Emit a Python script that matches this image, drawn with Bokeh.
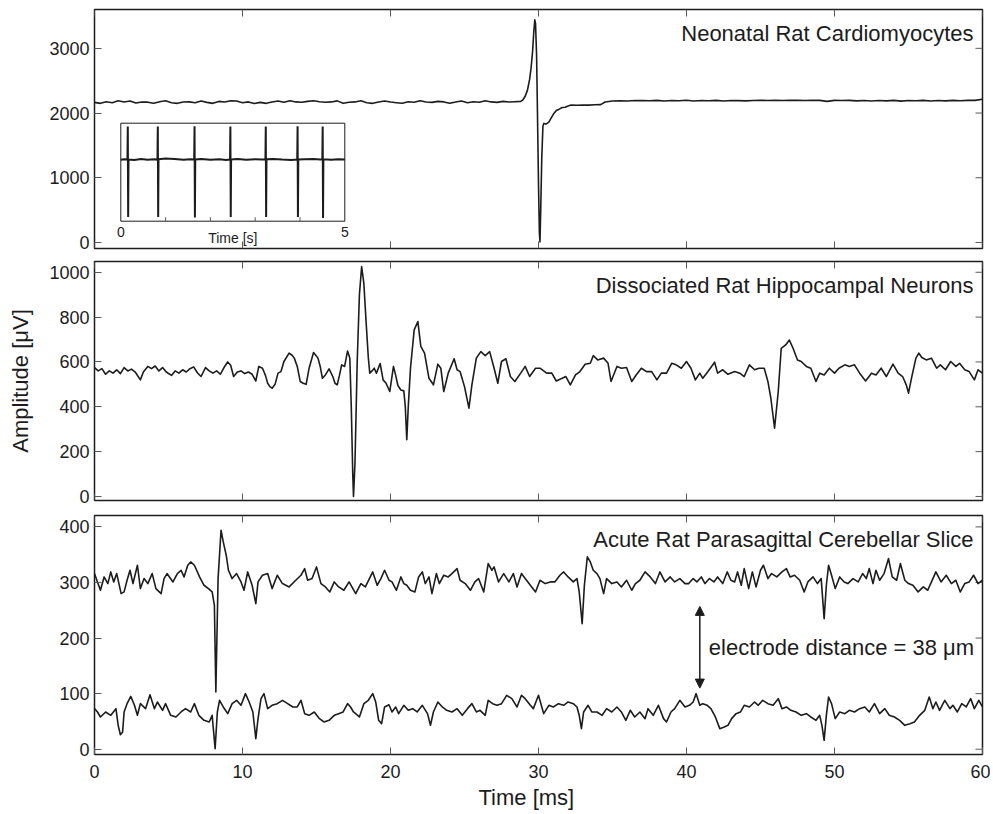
from bokeh.plotting import figure
from bokeh.layouts import column
from bokeh.models import Range1d, LinearAxis, FixedTicker, Label, Arrow, NormalHead, Title
from bokeh.embed import file_html
from bokeh.resources import INLINE

# ---------------- data (time [ms], amplitude [uV]) ----------------
x_ticks = [0, 10, 20, 30, 40, 50, 60]

cardio_ticks = [0, 1000, 2000, 3000]
cardio_trace = [
    (0.0, 2165), (0.4, 2150), (0.8, 2175), (1.2, 2160), (1.6, 2190), (2.0, 2170), (2.4, 2185), (2.8, 2155),
    (3.2, 2170), (3.6, 2168), (4.0, 2150), (4.4, 2175), (4.8, 2190), (5.2, 2160), (5.6, 2150), (6.0, 2170),
    (6.4, 2172), (6.8, 2160), (7.2, 2185), (7.6, 2165), (8.0, 2150), (8.4, 2180), (8.8, 2170), (9.2, 2190),
    (9.6, 2185), (10.0, 2160), (10.4, 2172), (10.8, 2148), (11.2, 2165), (11.6, 2150), (12.0, 2170), (12.4, 2185),
    (12.8, 2168), (13.2, 2190), (13.6, 2172), (14.0, 2168), (14.4, 2180), (14.8, 2190), (15.2, 2175), (15.6, 2168),
    (16.0, 2172), (16.4, 2188), (16.8, 2150), (17.2, 2168), (17.6, 2172), (18.0, 2190), (18.4, 2160), (18.8, 2150),
    (19.2, 2170), (19.6, 2185), (20.0, 2170), (20.4, 2160), (20.8, 2152), (21.2, 2175), (21.6, 2168), (22.0, 2190),
    (22.4, 2170), (22.8, 2165), (23.2, 2180), (23.6, 2172), (24.0, 2150), (24.4, 2170), (24.8, 2185), (25.2, 2160),
    (25.6, 2175), (26.0, 2168), (26.4, 2190), (26.8, 2172), (27.2, 2165), (27.6, 2180), (28.0, 2170), (28.4, 2175),
    (28.8, 2180), (28.95, 2205), (29.1, 2260), (29.25, 2350), (29.4, 2520), (29.5, 2700), (29.6, 2950), (29.68, 3250),
    (29.75, 3440), (29.8, 3380), (29.87, 2900), (29.93, 2000), (30.0, 900), (30.06, 150), (30.1, 10), (30.15, 500),
    (30.22, 1300), (30.3, 1800), (30.36, 1840), (30.5, 1830), (30.7, 1860), (30.85, 1920), (31.0, 1980), (31.2, 2040),
    (31.4, 2060), (31.6, 2085), (31.8, 2090), (32.0, 2110), (32.2, 2125), (32.6, 2120), (33.0, 2125), (33.4, 2122),
    (33.8, 2128), (34.2, 2130), (34.5, 2170), (35.0, 2185), (35.5, 2190), (36.0, 2185), (36.5, 2195), (37.0, 2192),
    (37.5, 2190), (38.0, 2196), (38.5, 2185), (39.0, 2195), (39.5, 2190), (40.0, 2198), (40.5, 2186), (41.0, 2195),
    (41.5, 2190), (42.0, 2196), (42.5, 2185), (43.0, 2195), (43.5, 2192), (44.0, 2188), (44.5, 2195), (45.0, 2196),
    (45.5, 2194), (46.0, 2196), (46.5, 2195), (47.0, 2196), (47.5, 2196), (48.0, 2195), (48.5, 2196), (49.0, 2196),
    (49.5, 2180), (50.0, 2196), (50.5, 2195), (51.0, 2196), (51.5, 2188), (52.0, 2195), (52.5, 2185), (53.0, 2194),
    (53.5, 2188), (54.0, 2196), (54.5, 2184), (55.0, 2195), (55.5, 2190), (56.0, 2196), (56.5, 2185), (57.0, 2195),
    (57.5, 2188), (58.0, 2196), (58.5, 2190), (59.0, 2196), (59.5, 2196), (60.0, 2212),
]

# inset: 5 s overview of the cardiomyocyte channel (time [s], amplitude [uV])
inset_t_range = (0, 5)
inset_v_range = (-200, 3600)
inset_minor_ticks = [1, 2, 3, 4]
inset_trace = [
    (0.0, 2180), (0.08, 2200), (0.148, 2190), (0.156, 3470), (0.164, -40), (0.172, 2195), (0.3, 2170),
    (0.45, 2210), (0.6, 2180), (0.75, 2200), (0.818, 2185), (0.826, 3470), (0.834, -40), (0.842, 2200),
    (1.0, 2230), (1.2, 2210), (1.4, 2180), (1.55, 2200), (1.638, 2190), (1.646, 3480), (1.654, -60),
    (1.662, 2190), (1.8, 2215), (2.0, 2180), (2.2, 2200), (2.35, 2175), (2.438, 2190), (2.446, 3470),
    (2.454, -40), (2.462, 2195), (2.6, 2210), (2.8, 2180), (3.0, 2200), (3.15, 2190), (3.228, 2200),
    (3.236, 3470), (3.244, -40), (3.252, 2200), (3.4, 2215), (3.6, 2190), (3.8, 2170), (3.938, 2190),
    (3.946, 3480), (3.954, -40), (3.962, 2190), (4.1, 2200), (4.3, 2215), (4.45, 2190), (4.498, 2200),
    (4.506, 3470), (4.514, -80), (4.522, 2200), (4.7, 2180), (4.85, 2200), (5.0, 2190),
]

neuron_ticks = [0, 200, 400, 600, 800, 1000]
neuron_trace = [
    (0.0, 575), (0.25, 560), (0.5, 570), (0.75, 545), (1.0, 560), (1.25, 550), (1.5, 565), (1.75, 548),
    (2.0, 575), (2.25, 560), (2.5, 568), (2.75, 555), (3.1, 520), (3.3, 555), (3.6, 580), (3.85, 570),
    (4.1, 582), (4.35, 560), (4.6, 575), (4.85, 555), (5.2, 540), (5.45, 560), (5.7, 550), (5.95, 565),
    (6.2, 555), (6.45, 570), (6.7, 578), (6.95, 552), (7.2, 535), (7.5, 575), (7.75, 560), (8.0, 550),
    (8.25, 560), (8.5, 545), (8.75, 575), (9.0, 600), (9.2, 585), (9.4, 535), (9.65, 555), (9.9, 560),
    (10.15, 548), (10.4, 555), (10.65, 545), (10.9, 515), (11.1, 580), (11.35, 572), (11.55, 540), (11.7, 505),
    (11.85, 490), (12.0, 483), (12.2, 500), (12.4, 550), (12.6, 557), (12.8, 602), (13.15, 639), (13.35, 630),
    (13.5, 617), (13.7, 580), (13.9, 513), (14.1, 505), (14.3, 500), (14.5, 572), (14.8, 642), (14.95, 630),
    (15.1, 617), (15.25, 580), (15.4, 527), (15.6, 542), (15.85, 569), (16.1, 535), (16.25, 505), (16.4, 498),
    (16.55, 540), (16.7, 587), (16.9, 580), (17.1, 649), (17.25, 617), (17.35, 400), (17.45, 100), (17.5, 0),
    (17.6, 150), (17.75, 600), (17.9, 900), (18.05, 1025), (18.2, 950), (18.35, 780), (18.5, 620), (18.6, 550),
    (18.75, 560), (18.9, 572), (19.05, 550), (19.3, 593), (19.5, 520), (19.7, 505), (19.95, 468), (20.2, 580),
    (20.35, 540), (20.5, 495), (20.7, 475), (20.9, 471), (21.0, 400), (21.1, 253), (21.2, 400), (21.35, 572),
    (21.6, 743), (21.85, 780), (22.05, 669), (22.3, 639), (22.6, 527), (22.9, 498), (23.2, 590), (23.4, 572),
    (23.6, 468), (23.9, 550), (24.3, 614), (24.5, 565), (24.7, 557), (25.0, 490), (25.3, 394), (25.5, 498),
    (25.8, 617), (26.1, 646), (26.4, 628), (26.7, 646), (27.0, 572), (27.25, 505), (27.5, 602), (27.8, 614),
    (28.1, 535), (28.4, 513), (28.8, 550), (29.1, 580), (29.4, 535), (29.8, 572), (30.1, 572), (30.55, 550),
    (30.9, 550), (31.2, 515), (31.6, 527), (31.85, 535), (32.15, 498), (32.5, 542), (32.8, 557), (33.15, 590),
    (33.5, 594), (33.7, 628), (34.0, 609), (34.4, 617), (34.7, 594), (34.9, 513), (35.3, 580), (35.6, 572),
    (35.95, 575), (36.3, 513), (36.6, 542), (36.95, 572), (37.3, 557), (37.65, 557), (38.0, 520), (38.3, 550),
    (38.65, 550), (39.0, 594), (39.3, 587), (39.65, 572), (40.0, 602), (40.3, 572), (40.6, 520), (40.9, 550),
    (41.1, 527), (41.45, 557), (41.9, 599), (42.1, 550), (42.45, 565), (42.8, 545), (43.25, 557), (43.6, 550),
    (43.9, 535), (44.25, 587), (44.6, 565), (44.9, 572), (45.25, 572), (45.5, 513), (45.7, 438), (45.95, 305),
    (46.2, 468), (46.4, 661), (46.7, 676), (46.95, 698), (47.2, 661), (47.5, 609), (47.75, 602), (48.1, 580),
    (48.4, 572), (48.75, 513), (49.0, 550), (49.3, 542), (49.65, 572), (50.0, 550), (50.3, 572), (50.7, 587),
    (51.0, 580), (51.35, 587), (51.7, 550), (52.1, 515), (52.5, 550), (52.8, 542), (53.15, 572), (53.5, 535),
    (53.95, 590), (54.3, 550), (54.6, 535), (54.85, 498), (55.0, 461), (55.2, 527), (55.5, 617), (55.7, 639),
    (55.9, 620), (56.2, 609), (56.55, 617), (56.9, 572), (57.15, 587), (57.5, 565), (57.85, 602), (58.2, 580),
    (58.45, 594), (58.8, 565), (59.1, 557), (59.45, 520), (59.7, 565), (60.0, 550),
]

slice_ticks = [0, 100, 200, 300, 400]
slice_upper = [
    (0.0, 316), (0.2, 301), (0.4, 286), (0.65, 310), (0.9, 298), (1.1, 319), (1.3, 301), (1.5, 316),
    (1.8, 280), (2.0, 283), (2.2, 304), (2.4, 322), (2.6, 298), (2.9, 331), (3.1, 289), (3.35, 307),
    (3.6, 298), (3.9, 316), (4.15, 289), (4.5, 280), (4.7, 307), (4.9, 316), (5.3, 301), (5.6, 316),
    (5.85, 322), (6.05, 310), (6.3, 331), (6.5, 337), (6.75, 331), (7.1, 310), (7.4, 295), (7.7, 289),
    (7.95, 283), (8.1, 259), (8.2, 103), (8.35, 307), (8.55, 394), (8.7, 373), (8.9, 349), (9.05, 322),
    (9.3, 307), (9.6, 316), (9.9, 301), (10.1, 286), (10.35, 319), (10.65, 295), (10.9, 262), (11.05, 301),
    (11.35, 313), (11.7, 316), (12.0, 289), (12.35, 313), (12.7, 298), (13.15, 292), (13.6, 304), (13.95, 313),
    (14.2, 325), (14.4, 304), (14.7, 307), (15.0, 328), (15.3, 298), (15.6, 292), (15.9, 283), (16.2, 301),
    (16.5, 292), (16.85, 286), (17.2, 301), (17.65, 280), (18.0, 298), (18.3, 292), (18.8, 319), (19.1, 295),
    (19.35, 307), (19.6, 322), (19.9, 304), (20.1, 301), (20.4, 286), (20.7, 310), (20.9, 298), (21.1, 295),
    (21.35, 286), (21.65, 283), (21.9, 310), (22.15, 319), (22.35, 298), (22.6, 310), (22.8, 280), (23.1, 316),
    (23.3, 298), (23.6, 313), (23.9, 310), (24.15, 316), (24.5, 325), (24.7, 304), (25.05, 298), (25.4, 286),
    (25.7, 301), (25.95, 307), (26.3, 283), (26.6, 334), (26.85, 322), (27.0, 328), (27.3, 301), (27.65, 316),
    (28.0, 301), (28.3, 316), (28.55, 292), (28.85, 316), (29.1, 307), (29.45, 295), (29.8, 283), (30.1, 304),
    (30.45, 298), (30.8, 301), (31.1, 301), (31.45, 313), (31.7, 319), (32.0, 310), (32.35, 301), (32.6, 307),
    (32.75, 283), (32.95, 226), (33.1, 295), (33.3, 346), (33.5, 337), (33.7, 322), (33.95, 316), (34.15, 307),
    (34.4, 280), (34.6, 307), (34.95, 298), (35.3, 301), (35.6, 292), (35.95, 304), (36.3, 286), (36.55, 298),
    (36.85, 304), (37.2, 319), (37.55, 310), (37.9, 298), (38.2, 319), (38.55, 301), (38.9, 310), (39.2, 301),
    (39.55, 307), (39.9, 298), (40.15, 298), (40.45, 307), (40.7, 301), (41.0, 310), (41.25, 298), (41.55, 307),
    (41.85, 301), (42.1, 310), (42.45, 298), (42.75, 319), (43.0, 304), (43.25, 301), (43.45, 319), (43.7, 295),
    (43.9, 325), (44.2, 289), (44.45, 319), (44.7, 292), (45.0, 322), (45.2, 331), (45.5, 307), (45.75, 316),
    (46.1, 310), (46.45, 319), (46.75, 325), (47.0, 310), (47.3, 313), (47.65, 304), (47.95, 283), (48.2, 301),
    (48.55, 310), (48.85, 298), (49.1, 307), (49.3, 235), (49.45, 295), (49.6, 331), (49.8, 313), (50.05, 289),
    (50.35, 310), (50.65, 301), (50.9, 298), (51.25, 307), (51.6, 301), (51.9, 316), (52.15, 307), (52.35, 325),
    (52.6, 298), (52.8, 322), (53.05, 304), (53.35, 316), (53.65, 343), (53.9, 310), (54.2, 304), (54.45, 334),
    (54.75, 304), (55.0, 298), (55.3, 295), (55.65, 283), (56.0, 292), (56.3, 286), (56.65, 307), (56.85, 319),
    (57.2, 301), (57.55, 313), (57.9, 298), (58.2, 304), (58.5, 283), (58.8, 298), (59.1, 301), (59.4, 313),
    (59.7, 298), (60.0, 304),
]
slice_lower = [
    (0.0, 73), (0.2, 67), (0.4, 58), (0.75, 67), (1.1, 61), (1.45, 73), (1.6, 43), (1.75, 26),
    (1.9, 31), (2.0, 67), (2.2, 82), (2.45, 95), (2.7, 79), (2.9, 61), (3.1, 82), (3.45, 73),
    (3.75, 98), (4.05, 73), (4.25, 85), (4.6, 70), (4.8, 82), (5.15, 61), (5.5, 58), (5.85, 67),
    (6.15, 73), (6.5, 67), (6.75, 82), (7.05, 61), (7.4, 52), (7.75, 49), (7.95, 61), (8.15, 1),
    (8.3, 67), (8.45, 88), (8.7, 76), (9.0, 64), (9.3, 82), (9.6, 88), (9.9, 79), (10.2, 100),
    (10.45, 85), (10.7, 67), (10.9, 19), (11.05, 55), (11.25, 91), (11.45, 100), (11.7, 73), (12.0, 79),
    (12.35, 82), (12.7, 88), (13.05, 82), (13.4, 76), (13.7, 76), (13.95, 88), (14.2, 64), (14.5, 61),
    (14.85, 67), (15.2, 55), (15.5, 49), (15.85, 52), (16.2, 61), (16.5, 64), (16.8, 67), (17.1, 82),
    (17.3, 76), (17.5, 67), (17.9, 58), (18.2, 82), (18.5, 88), (18.8, 100), (19.0, 85), (19.2, 52),
    (19.4, 46), (19.6, 76), (19.9, 80), (20.1, 67), (20.35, 76), (20.55, 64), (20.9, 79), (21.2, 70),
    (21.5, 73), (21.8, 67), (22.15, 79), (22.5, 64), (22.7, 43), (22.9, 67), (23.2, 85), (23.5, 76),
    (23.8, 70), (24.15, 67), (24.5, 73), (24.85, 61), (25.2, 73), (25.5, 82), (25.8, 67), (26.05, 70),
    (26.4, 61), (26.6, 88), (26.9, 82), (27.2, 79), (27.5, 82), (27.85, 97), (28.2, 91), (28.55, 76),
    (28.85, 97), (29.1, 91), (29.45, 79), (29.65, 73), (30.0, 97), (30.35, 64), (30.7, 79), (31.0, 76),
    (31.35, 82), (31.7, 79), (32.0, 85), (32.35, 82), (32.6, 76), (32.75, 61), (32.9, 37), (33.05, 67),
    (33.35, 79), (33.6, 67), (33.95, 67), (34.3, 61), (34.6, 73), (34.95, 67), (35.3, 76), (35.6, 67),
    (35.9, 52), (36.2, 70), (36.5, 58), (36.85, 67), (37.2, 55), (37.4, 73), (37.75, 61), (38.1, 79),
    (38.45, 55), (38.65, 49), (38.95, 67), (39.2, 73), (39.55, 88), (39.9, 76), (40.2, 79), (40.45, 85),
    (40.65, 100), (40.9, 79), (41.1, 82), (41.4, 79), (41.65, 73), (41.95, 58), (42.25, 37), (42.55, 40),
    (42.8, 43), (43.05, 55), (43.35, 64), (43.65, 67), (43.9, 79), (44.25, 76), (44.6, 85), (44.85, 79),
    (45.15, 88), (45.5, 82), (45.85, 79), (46.2, 91), (46.45, 73), (46.75, 76), (47.05, 70), (47.4, 67),
    (47.75, 61), (48.1, 64), (48.4, 58), (48.75, 52), (49.0, 61), (49.15, 43), (49.3, 16), (49.45, 61),
    (49.6, 94), (49.8, 82), (50.05, 55), (50.35, 67), (50.7, 64), (51.0, 70), (51.35, 67), (51.7, 73),
    (52.05, 76), (52.35, 67), (52.7, 82), (53.05, 64), (53.4, 73), (53.7, 61), (54.05, 58), (54.4, 52),
    (54.75, 43), (55.1, 46), (55.4, 49), (55.75, 61), (56.1, 70), (56.4, 94), (56.65, 73), (56.85, 85),
    (57.1, 70), (57.45, 88), (57.8, 73), (58.0, 79), (58.3, 67), (58.6, 82), (58.9, 76), (59.2, 91),
    (59.45, 73), (59.75, 88), (60.0, 76),
]

# electrode-distance marker (time [ms], amplitude [uV])
marker_time = 40.9
marker_span = (110, 257)

titles = ["Neonatal Rat Cardiomyocytes", "Dissociated Rat Hippocampal Neurons",
          "Acute Rat Parasagittal Cerebellar Slice"]

# ---------------- styling / layout ----------------
FONT = "Liberation Sans"
INK = "#1c1c1c"
TICK = "#5a5a5a"
FRAME_W = 888
FRAME_H = 239
TICK_LEN = 7
X_RANGE = (0, 60)


def unzip(pairs):
    return [a for a, _ in pairs], [b for _, b in pairs]


def make_panel(y_range, y_ticks, b_top, b_bottom, title, x_labels=False):
    p = figure(frame_width=FRAME_W, frame_height=FRAME_H,
               x_range=Range1d(*X_RANGE), y_range=Range1d(*y_range),
               output_backend="svg", toolbar_location=None,
               x_axis_location=None, y_axis_location=None,
               min_border_left=94, min_border_right=8,
               min_border_top=b_top, min_border_bottom=b_bottom)
    p.xgrid.visible = False
    p.ygrid.visible = False
    p.outline_line_color = INK
    p.outline_line_width = 1.5
    p.background_fill_color = "white"
    p.border_fill_color = "white"

    axes = {}
    sides = [("left", y_ticks)] + ([("below", x_ticks)] if x_labels else [])
    for loc, ticks in sides:
        ax = LinearAxis(ticker=FixedTicker(ticks=ticks))
        ax.major_tick_in = TICK_LEN
        ax.major_tick_out = 0
        ax.minor_tick_in = 0
        ax.minor_tick_out = 0
        ax.axis_line_color = None
        ax.major_tick_line_color = TICK
        ax.major_tick_line_width = 1
        ax.major_label_text_font = FONT
        ax.major_label_text_font_size = "18px"
        ax.major_label_text_color = INK
        ax.major_label_standoff = 5
        p.add_layout(ax, loc)
        axes[loc] = ax

    # inward tick marks on the unlabeled sides of the box
    dx = (X_RANGE[1] - X_RANGE[0]) / FRAME_W * TICK_LEN
    dy = (y_range[1] - y_range[0]) / FRAME_H * TICK_LEN
    n = len(x_ticks)
    p.segment(x0=x_ticks, y0=[y_range[1]] * n, x1=x_ticks, y1=[y_range[1] - dy] * n,
              line_color=TICK, line_width=1)
    if not x_labels:
        p.segment(x0=x_ticks, y0=[y_range[0]] * n, x1=x_ticks, y1=[y_range[0] + dy] * n,
                  line_color=TICK, line_width=1)
    m = len(y_ticks)
    p.segment(x0=[X_RANGE[1]] * m, y0=y_ticks, x1=[X_RANGE[1] - dx] * m, y1=y_ticks,
              line_color=TICK, line_width=1)

    p.add_layout(Label(x=X_RANGE[1], y=y_range[1], text=title, text_align="right", text_baseline="top",
                       x_offset=-9, y_offset=-11, text_font=FONT, text_font_size="22px",
                       text_color=INK))
    return p, axes


# panel 1: cardiomyocytes
y1 = (-93, 3600)
p1, ax1 = make_panel(y1, cardio_ticks, 9, 12, titles[0])
t, v = unzip(cardio_trace)
p1.line(t, v, line_color=INK, line_width=1.6, line_join="round")

# inset drawn through its own ranges (seconds / uV), placed in the lower left of panel 1
inset_x = Range1d(-0.587, 19.234)
inset_y = Range1d(-1259, 8009)
p1.extra_x_ranges = {"inset_x": inset_x}
p1.extra_y_ranges = {"inset_y": inset_y}
ins = dict(x_range_name="inset_x", y_range_name="inset_y")
inset_px = (inset_y.end - inset_y.start) / FRAME_H
p1.quad(left=[inset_t_range[0]], right=[inset_t_range[1]], bottom=[inset_v_range[0]],
        top=[inset_v_range[1]], fill_color=None, line_color=INK, line_width=1, **ins)
ti, vi = unzip(inset_trace)
p1.line(ti, vi, line_color=INK, line_width=2.0, **ins)
k = len(inset_minor_ticks)
p1.segment(x0=inset_minor_ticks, y0=[inset_v_range[0]] * k, x1=inset_minor_ticks,
           y1=[inset_v_range[0] + 4 * inset_px] * k, line_color=TICK, line_width=1, **ins)
for tx in inset_t_range:
    p1.add_layout(Label(x=tx, y=inset_v_range[0], text=str(tx), text_align="center",
                        text_baseline="top", y_offset=-6, text_font=FONT, text_font_size="14px",
                        text_color=INK, **ins))
p1.add_layout(Label(x=sum(inset_t_range) / 2.0, y=inset_v_range[0], text="Time [s]",
                    text_align="center", text_baseline="top", y_offset=-9, text_font=FONT,
                    text_font_size="14px", text_color=INK, **ins))

# panel 2: hippocampal neurons
y2 = (-18, 1048)
p2, ax2 = make_panel(y2, neuron_ticks, 1, 14, titles[1])
t, v = unzip(neuron_trace)
p2.line(t, v, line_color=INK, line_width=1.6, line_join="round")
ax2["left"].axis_label = "Amplitude [μV]"
ax2["left"].axis_label_text_font = FONT
ax2["left"].axis_label_text_font_size = "22px"
ax2["left"].axis_label_text_font_style = "normal"
ax2["left"].axis_label_text_color = INK
ax2["left"].axis_label_standoff = 13

# panel 3: cerebellar slice
y3 = (-9.5, 420.5)
p3, ax3 = make_panel(y3, slice_ticks, 1, 59, titles[2], x_labels=True)
for tr in (slice_upper, slice_lower):
    t, v = unzip(tr)
    p3.line(t, v, line_color=INK, line_width=1.6, line_join="round")
ax3["below"].major_label_standoff = 10
p3.add_layout(Title(text="Time [ms]", align="left", offset=384, standoff=4, text_font=FONT,
                    text_font_size="22px", text_font_style="normal", text_color=INK), "below")

p3.add_layout(Arrow(x_start=marker_time, y_start=marker_span[0], x_end=marker_time, y_end=marker_span[1],
                    start=NormalHead(size=9, fill_color=INK, line_color=INK),
                    end=NormalHead(size=9, fill_color=INK, line_color=INK),
                    line_color=INK, line_width=1.5))
p3.add_layout(Label(x=marker_time, y=sum(marker_span) / 2.0, text="electrode distance = 38 μm",
                    text_baseline="middle", x_offset=9, y_offset=0, text_font=FONT,
                    text_font_size="22px", text_color=INK))

layout = column(p1, p2, p3, spacing=0)
open("out.html", "w").write(file_html(layout, INLINE))
